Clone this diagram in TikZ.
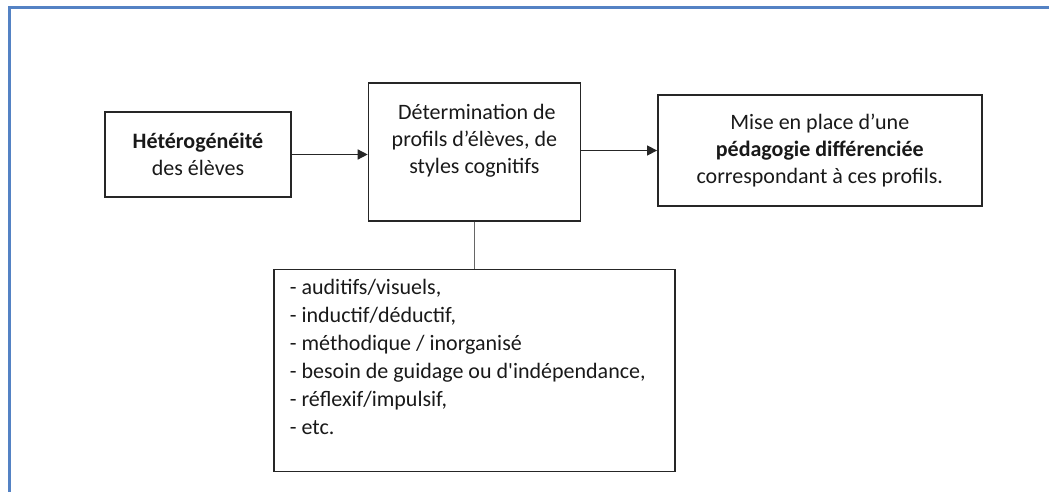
\documentclass[tikz,border=0pt]{standalone}
\usepackage{fontspec}
\setmainfont{Carlito}[Ligatures=TeXOff]
\usepackage{xcolor}
\usetikzlibrary{arrows.meta, positioning}
\definecolor{framecol}{RGB}{84,130,196}

\begin{document}
\begin{tikzpicture}[
    x=1pt, y=1pt,
    mainbox/.style={draw=black!85, line width=0.7pt, inner sep=2pt, align=center, text=black!90, font=\fontsize{11}{13.5}\selectfont},
    listbox/.style={draw=black!85, line width=0.7pt, inner xsep=8pt, text width=184.5pt, align=flush left, text=black!90, font=\fontsize{11}{14}\selectfont},
    flow/.style={draw=black!85, line width=0.7pt, -{Triangle[length=5pt, width=5pt]}},
    ]
    % page size and the blue frame (left and top only)
    \useasboundingbox (0,0) rectangle (524.5,-246);
    \draw[framecol, line width=1.5pt] (4.5,-246) -- (4.5,-4) -- (524.5,-4);

    % Heterogeneity box (anchor point for positioning)
    \node[mainbox, minimum width=93pt, minimum height=42.5pt] (hetero) at (99,-77.25) {\textbf{Hétérogénéité}\\des élèves};

    % Profiles box, then the pedagogy box to its right
    \node[mainbox, minimum width=106pt, minimum height=69pt, right=38pt of hetero, yshift=1.25pt] (determ) {\ Détermination de\\profils d’élèves, de\\styles cognitifs\\ \mbox{}};
    \node[mainbox, minimum width=162pt, minimum height=55.5pt, right=38pt of determ, yshift=0.75pt] (pedago) {Mise en place d’une\\\textbf{pédagogie différenciée}\\correspondant à ces profils.};

    % List of profiles below
    \node[listbox, minimum height=101pt, below=23.5pt of determ] (profils) {- auditifs/visuels,\\- inductif/déductif,\\- méthodique / inorganisé\\- besoin de guidage ou d'indépendance,\\- réflexif/impulsif,\\- etc.\\ \mbox{}};

    % Arrows
    \draw[flow] (hetero.east) -- (hetero.east -| determ.west);
    \draw[flow] (determ.east |- pedago.west) -- (pedago.west);
    \draw[draw=black!60, line width=0.7pt] (determ.south) -- (profils.north);
\end{tikzpicture}
\end{document}
